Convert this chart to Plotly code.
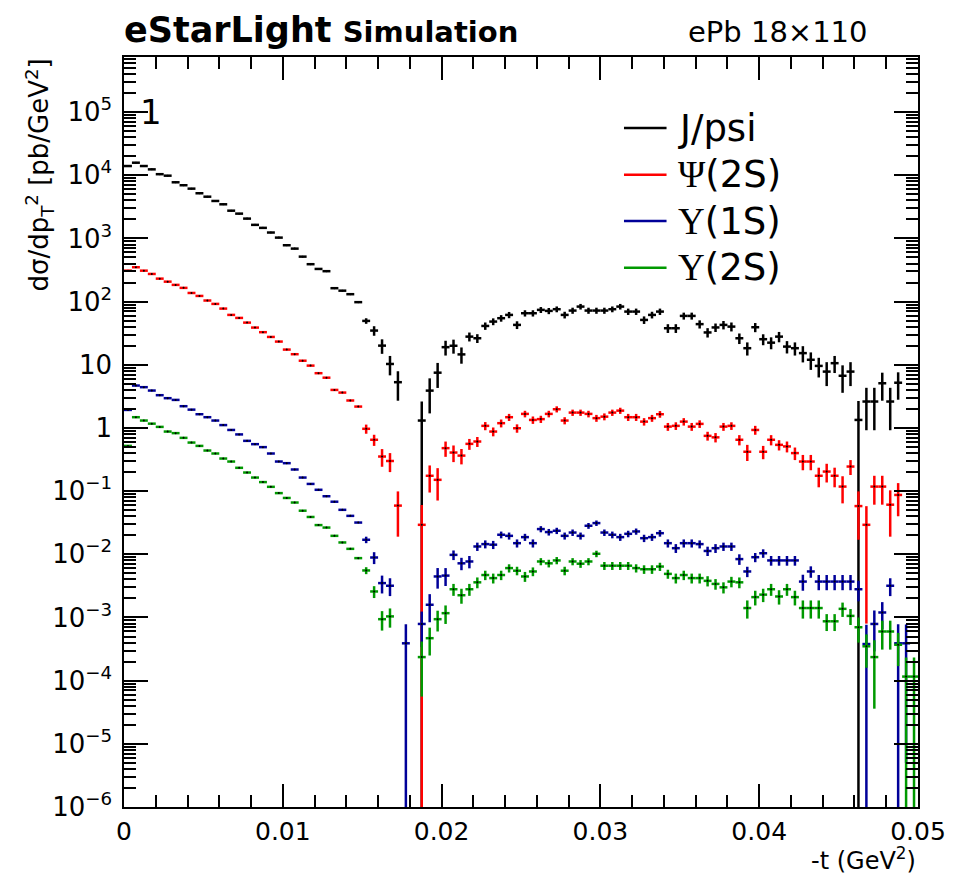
import plotly.graph_objects as go

# ---------------- data ----------------
bin_width = 0.0005
t_centers = [round((i + 0.5) * bin_width, 6) for i in range(100)]

jpsi = [14000, 15800, 14000, 12400, 10400, 9850, 7740, 6950, 6140, 5190,
        4580, 3920, 3470, 2750, 2470, 2060, 1640, 1470, 1240, 1030,
        780, 690, 515, 391, 329, 303, 163, 149, 131, 98,
        49.5, 34.8, 20.1, 10.3, 5.3, None, None, 1.31, 3.9, 7.5,
        19, 20, 14.6, 27.9, 26.3, 41.2, 48.3, 54.6, 61.6, 42.8,
        65.5, 65.5, 74, 71.3, 75.8, 61.6, 72.1, 83.4, 72.1, 72.1,
        72.1, 75.8, 83.4, 69.5, 69.5, 51.3, 61.6, 69.5, 37.9, 37.9,
        59.4, 59.4, 44, 32.5, 39, 42.8, 40.2, 26.3, 18.3, 39.3,
        25.4, 22.4, 27.9, 19.4, 18.3, 15.3, 12, 9.6, 7.8, 10.6,
        6.7, 7.8, 1.34, 2.62, 2.62, 5.1, 2.62, 5.2, None, None]
jpsi_err = [0] * 30 + [
        5, 6, 5.2, 3.5, 2.6, 0, 0, 1.31, 2.2, 3.2,
        5, 5, 4.2, 4.5, 4.2, 5.5, 6, 6.5, 7, 6,
        7.5, 7.5, 8, 8, 8, 7.5, 8, 8.5, 8, 8,
        8, 8, 8.5, 8, 8, 7, 7.5, 8, 6, 6,
        7.5, 7.5, 6.5, 5.5, 6, 6.5, 6.5, 5, 4.3, 6.5,
        5, 4.8, 5.2, 4.3, 4.3, 4.4, 3.7, 3.3, 3.2, 3.2,
        3.1, 3.2, 1.34, 1.7, 1.7, 2.4, 1.7, 2.4, 0, 0]

psi2s = [309, 350, 309, 274, 231, 207, 184, 165, 137, 123,
         104, 92, 77.5, 61.6, 55.2, 46.5, 38.8, 32.8, 27.6, 23.3,
         17.4, 14.7, 11.6, 9.7, 7.36, 6.25, 4.0, 3.63, 2.72, 2.18,
         0.97, 0.65, 0.353, 0.30, 0.059, None, None, 0.0293, 0.175, 0.151,
         0.479, 0.408, 0.365, 0.56, 0.61, 1.08, 0.877, 1.19, 1.48, 0.99,
         1.67, 1.34, 1.38, 1.67, 1.98, 1.31, 1.75, 1.75, 1.67, 1.43,
         1.51, 1.75, 1.88, 1.48, 1.48, 1.26, 1.43, 1.65, 1.05, 1.08,
         1.26, 1.05, 1.16, 0.75, 0.71, 1.05, 1.08, 0.65, 0.42, 0.93,
         0.42, 0.65, 0.54, 0.51, 0.40, 0.294, 0.294, 0.175, 0.204, 0.175,
         0.118, 0.245, 0.058, 0.0293, 0.118, 0.118, 0.061, 0.087, None, None]
psi2s_err = [0] * 30 + [
         0.16, 0.13, 0.11, 0.1, 0.04, 0, 0, 0.031, 0.08, 0.08,
         0.13, 0.12, 0.1, 0.11, 0.11, 0.16, 0.14, 0.17, 0.19, 0.15,
         0.2, 0.18, 0.18, 0.2, 0.22, 0.17, 0.2, 0.2, 0.2, 0.18,
         0.19, 0.2, 0.21, 0.19, 0.19, 0.17, 0.18, 0.2, 0.15, 0.15,
         0.17, 0.15, 0.16, 0.12, 0.12, 0.15, 0.15, 0.12, 0.12, 0.15,
         0.1, 0.12, 0.1, 0.1, 0.09, 0.08, 0.08, 0.06, 0.067, 0.06,
         0.054, 0.065, 0.041, 0.0285, 0.057, 0.057, 0.042, 0.047, 0, 0]

ups1s = [1.93, 4.69, 4.42, 3.91, 3.30, 2.96, 2.78, 2.21, 1.95, 1.65,
         1.48, 1.31, 1.11, 0.93, 0.79, 0.625, 0.554, 0.497, 0.394, 0.294,
         0.277, 0.22, 0.164, 0.13, 0.105, 0.083, 0.068, 0.0506, 0.0406, 0.0318,
         0.017, 0.0089, 0.0035, 0.00318, None, 3.9e-4, None, 7.9e-4, 1.59e-3, 4.46e-3,
         4.6e-3, 9.8e-3, 7.2e-3, 7.7e-3, 0.0133, 0.0145, 0.0142, 0.0204, 0.0196, 0.015,
         0.0187, 0.015, 0.0251, 0.0225, 0.0236, 0.0196, 0.0221, 0.0196, 0.0283, 0.0312,
         0.0221, 0.0204, 0.0187, 0.0211, 0.023, 0.018, 0.0187, 0.0216, 0.015, 0.0125,
         0.015, 0.015, 0.0145, 0.0113, 0.0125, 0.0133, 0.0133, 8.4e-3, 5.35e-3, 9.0e-3,
         0.0104, 8e-3, 8e-3, 8e-3, 8e-3, 3.7e-3, 5.35e-3, 3.7e-3, 3.7e-3, 3.7e-3,
         3.7e-3, 3.7e-3, 2.8e-3, 3.8e-4, 7.9e-4, 1.2e-3, 3.18e-3, 3.9e-4, 3.9e-4, None]
ups1s_err = [0] * 30 + [
         0.002, 0.0019, 0.0011, 0.001, 0, 3.9e-4, 0, 4.5e-4, 7.5e-4, 1.6e-3,
         1.45e-3, 1.7e-3, 1.6e-3, 1.7e-3, 2e-3, 2.1e-3, 2.1e-3, 2.5e-3, 2.5e-3, 2.2e-3,
         2.4e-3, 2.2e-3, 2.8e-3, 2.7e-3, 2.7e-3, 2.5e-3, 2.6e-3, 2.5e-3, 3e-3, 3.1e-3,
         2.6e-3, 2.5e-3, 2.4e-3, 2.5e-3, 2.6e-3, 2.4e-3, 2.4e-3, 2.6e-3, 2.2e-3, 2e-3,
         2.2e-3, 2.2e-3, 2.1e-3, 1.9e-3, 2e-3, 2e-3, 2e-3, 1.6e-3, 1e-3, 1.5e-3,
         1.6e-3, 1.4e-3, 1.4e-3, 1.4e-3, 1.4e-3, 1.05e-3, 1.1e-3, 1e-3, 1e-3, 1e-3,
         1e-3, 1e-3, 1e-3, 3.9e-4, 5e-4, 5.5e-4, 1e-3, 3.9e-4, 3.85e-4, 0]

ups2s = [0.52, 1.48, 1.31, 1.17, 1.04, 0.877, 0.828, 0.697, 0.587, 0.52,
         0.439, 0.394, 0.328, 0.294, 0.234, 0.197, 0.164, 0.139, 0.117, 0.093,
         0.078, 0.066, 0.049, 0.039, 0.029, 0.0265, 0.0196, 0.0154, 0.0122, 0.0087,
         0.00555, 0.00258, 9.4e-4, 1.04e-3, None, None, None, 2.36e-4, 4.7e-4, 9.4e-4,
         1.17e-3, 2.8e-3, 2.25e-3, 2.8e-3, 3.6e-3, 4.7e-3, 4.2e-3, 4.7e-3, 6.05e-3, 5.5e-3,
         4.46e-3, 5.35e-3, 7.7e-3, 7.2e-3, 8e-3, 5.5e-3, 7.7e-3, 7.1e-3, 7.7e-3, 0.0102,
         6.6e-3, 6.6e-3, 6.6e-3, 6.6e-3, 6.05e-3, 5.8e-3, 5.8e-3, 6.4e-3, 4.9e-3, 4.2e-3,
         4.7e-3, 4.2e-3, 4.2e-3, 3.8e-3, 3.4e-3, 3.0e-3, 3.7e-3, 3.6e-3, 1.41e-3, 2.1e-3,
         2.3e-3, 2.8e-3, 2.15e-3, 2.8e-3, 2.1e-3, 1.41e-3, 1.41e-3, 1.41e-3, 8.7e-4, 8.7e-4,
         1.37e-3, 1.06e-3, 7e-4, 3.5e-4, 2.36e-4, 6e-4, 6e-4, 3.7e-4, 1.16e-4, 1.16e-4]
ups2s_err = [0] * 30 + [
         7e-4, 5.5e-4, 3.2e-4, 3.5e-4, 0, 0, 0, 1.8e-4, 2.2e-4, 3.4e-4,
         3.8e-4, 6e-4, 6e-4, 6e-4, 7e-4, 8e-4, 7.5e-4, 8e-4, 9e-4, 8.5e-4,
         8e-4, 8.5e-4, 1e-3, 1e-3, 1.05e-3, 8.5e-4, 1e-3, 1e-3, 1e-3, 1.2e-3,
         9.5e-4, 9.5e-4, 9.5e-4, 9.5e-4, 9e-4, 9e-4, 9e-4, 9.5e-4, 8e-4, 7.5e-4,
         8e-4, 7.5e-4, 7.5e-4, 7e-4, 6.5e-4, 6e-4, 7e-4, 7e-4, 4.5e-4, 5.5e-4,
         5.5e-4, 6e-4, 5.5e-4, 6e-4, 5.5e-4, 4.5e-4, 4.5e-4, 4.5e-4, 2.6e-4, 2.6e-4,
         3.5e-4, 3e-4, 3e-4, 1.9e-4, 2e-4, 2.9e-4, 2.9e-4, 2e-4, 1.16e-4, 1.16e-4]

series_names = ["J/psi",
                "<span style='font-family:Liberation Serif'>Ψ</span>(2S)",
                "<span style='font-family:Liberation Serif'>Υ</span>(1S)",
                "<span style='font-family:Liberation Serif'>Υ</span>(2S)"]
series_colors = ["#000000", "#ff0000", "#000099", "#009900"]
series_values = [jpsi, psi2s, ups1s, ups2s]
series_errors = [jpsi_err, psi2s_err, ups1s_err, ups2s_err]

x_tick_vals = [0, 0.01, 0.02, 0.03, 0.04, 0.05]
x_tick_text = ["0", "0.01", "0.02", "0.03", "0.04", "0.05"]
y_decades = list(range(-6, 6))
y_tick_text = {5: "10<sup>5</sup>", 4: "10<sup>4</sup>", 3: "10<sup>3</sup>",
               2: "10<sup>2</sup>", 1: "10", 0: "1", -1: "10<sup>−1</sup>",
               -2: "10<sup>−2</sup>", -3: "10<sup>−3</sup>", -4: "10<sup>−4</sup>",
               -5: "10<sup>−5</sup>", -6: "10<sup>−6</sup>"}

# ---------------- figure ----------------
FONT = "DejaVu Sans"
fig = go.Figure()
for vals, errs, col in zip(series_values, series_errors, series_colors):
    fig.add_trace(go.Scatter(
        x=t_centers, y=vals, mode="markers",
        marker=dict(size=2, color="black"),
        error_x=dict(type="constant", value=bin_width / 2, color=col,
                     thickness=2.5, width=0),
        error_y=dict(type="data", array=errs, symmetric=True, color=col,
                     thickness=2.5, width=0),
        showlegend=False, hoverinfo="skip"))

x_minor = [round(0.002 * k, 4) for k in range(26) if k % 5 != 0]
y_minor = [m * 10 ** d for d in range(-6, 6) for m in range(2, 10)]

fig.update_xaxes(
    range=[0, 0.05], showgrid=False, zeroline=False,
    showline=True, linecolor="black", linewidth=1.5, mirror="allticks",
    ticks="inside", ticklen=23, tickwidth=1.5, tickcolor="black",
    tickmode="array", tickvals=x_tick_vals, ticktext=x_tick_text,
    tickfont=dict(family=FONT, size=25, color="black"),
    ticklabelstandoff=1,
    minor=dict(tickmode="array", tickvals=x_minor, ticks="inside",
               ticklen=12, tickwidth=1.5, tickcolor="black"),
)
fig.update_yaxes(
    type="log", range=[-6, 5.872], showgrid=False, zeroline=False,
    showline=True, linecolor="black", linewidth=1.5, mirror="allticks",
    ticks="inside", ticklen=24, tickwidth=1.5, tickcolor="black",
    tickmode="array", tickvals=[10 ** d for d in y_decades],
    ticktext=[y_tick_text[d] for d in y_decades],
    tickfont=dict(family=FONT, size=26, color="black"),
    ticklabelstandoff=5,
    minor=dict(tickmode="array", tickvals=y_minor, ticks="inside",
               ticklen=12, tickwidth=1.5, tickcolor="black"),
)

annotations = [
    dict(text="<b>eStarLight</b> <b><span style='font-size:29px'>Simulation</span></b>",
         x=-0.002, y=1.036, xref="paper", yref="paper", xanchor="left", yanchor="middle",
         showarrow=False, font=dict(family=FONT, size=35, color="black")),
    dict(text="ePb 18×110", x=0.939, y=1.0333, xref="paper", yref="paper",
         xanchor="right", yanchor="middle", showarrow=False,
         font=dict(family=FONT, size=29, color="black")),
    dict(text="dσ/dp<sub>T</sub><sup>2</sup> [pb/GeV<sup>2</sup>]", textangle=-90,
         x=-0.107, y=1.0, xref="paper", yref="paper", xanchor="center", yanchor="top",
         showarrow=False, font=dict(family=FONT, size=26, color="black")),
    dict(text="-t (GeV<sup>2</sup>)", x=1.0, y=-0.0695, xref="paper", yref="paper",
         xanchor="right", yanchor="middle", showarrow=False,
         font=dict(family=FONT, size=24, color="black")),
    dict(text="1", x=0.0337, y=0.9267, xref="paper", yref="paper",
         xanchor="center", yanchor="middle", showarrow=False,
         font=dict(family=FONT, size=34, color="black")),
]

legend_y = [0.9053, 0.8431, 0.7813, 0.7191]
shapes = []
for name, col, ly in zip(series_names, series_colors, legend_y):
    shapes.append(dict(type="line", xref="paper", yref="paper",
                       x0=0.6297, x1=0.6833, y0=ly, y1=ly,
                       line=dict(color=col, width=2.5)))
    annotations.append(dict(text=name, x=0.6958, y=ly, xref="paper", yref="paper",
                            xanchor="left", yanchor="middle", showarrow=False,
                            font=dict(family=FONT, size=37, color="black")))

fig.update_layout(
    width=958, height=878,
    margin=dict(l=124, r=32, t=57, b=71),
    paper_bgcolor="white", plot_bgcolor="white",
    font=dict(family=FONT, color="black"),
    annotations=annotations, shapes=shapes, showlegend=False,
)

fig.write_html("out.html",
               config={"displayModeBar": False},
               post_script="document.body.style.margin='0px';"
                           "document.body.style.overflow='hidden';")
